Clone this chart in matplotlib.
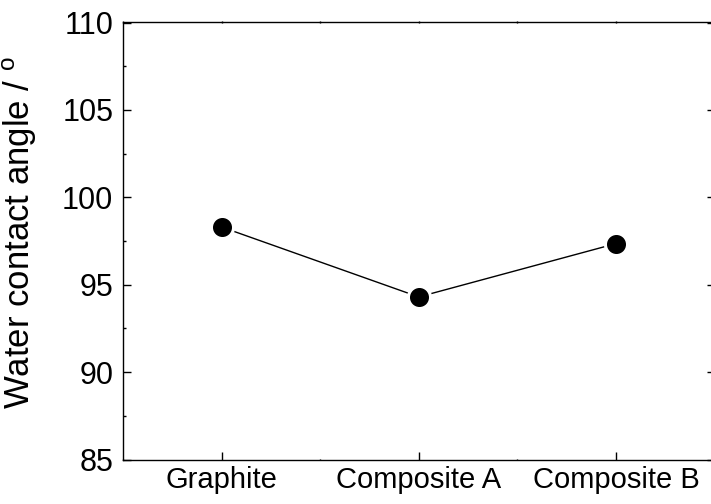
import matplotlib
matplotlib.use("Agg")
import matplotlib.pyplot as plt
from matplotlib.ticker import MultipleLocator

samples = ["Graphite", "Composite A", "Composite B"]
contact_angle = [98.3, 94.3, 97.35]

plt.rcParams["font.family"] = ["Liberation Sans", "DejaVu Sans"]
plt.rcParams["mathtext.fontset"] = "custom"
plt.rcParams["mathtext.rm"] = "Liberation Sans"

fig = plt.figure(figsize=(7.11, 5.04), dpi=100)
ax = fig.add_axes([123 / 711, 44.5 / 504, 591.5 / 711, 437 / 504])

xpos = list(range(1, len(samples) + 1))
ax.plot(xpos, contact_angle, color="black", lw=1.0, marker="o",
        markersize=15.9, markerfacecolor="black", markeredgecolor="white",
        markeredgewidth=2.2, zorder=3)

ax.set_xlim(0.5, len(samples) + 0.5)
ax.set_ylim(85, 110)
ax.set_xticks(xpos)
ax.set_xticklabels(samples)
ax.xaxis.set_minor_locator(MultipleLocator(0.5))
ax.yaxis.set_major_locator(MultipleLocator(5))
ax.yaxis.set_minor_locator(MultipleLocator(2.5))

for s in ax.spines.values():
    s.set_linewidth(1.0)
ax.spines["top"].set_visible(False)

ax.tick_params(axis="y", which="major", direction="in", length=6, width=1.0,
               labelsize=22, pad=7, right=True)
ax.tick_params(axis="y", which="minor", direction="in", length=2.5, width=1.0,
               right=True)
ax.tick_params(axis="x", which="major", direction="in", length=5.5, width=1.0,
               labelsize=21, pad=5, top=False)
ax.tick_params(axis="x", which="minor", direction="in", length=1.0, width=1.0,
               top=False)

top = ax.secondary_xaxis("top")
top.set_xticks(xpos)
top.xaxis.set_minor_locator(MultipleLocator(0.5))
top.tick_params(which="both", direction="inout", length=1.5, width=1.0,
                labeltop=False)
top.spines["top"].set_linewidth(1.0)

ax.set_ylabel("Water contact angle / $^\\mathregular{o}$", fontsize=25)
ax.yaxis.set_label_coords(-0.142, 0.52)

fig.savefig("out.png", dpi=100)
